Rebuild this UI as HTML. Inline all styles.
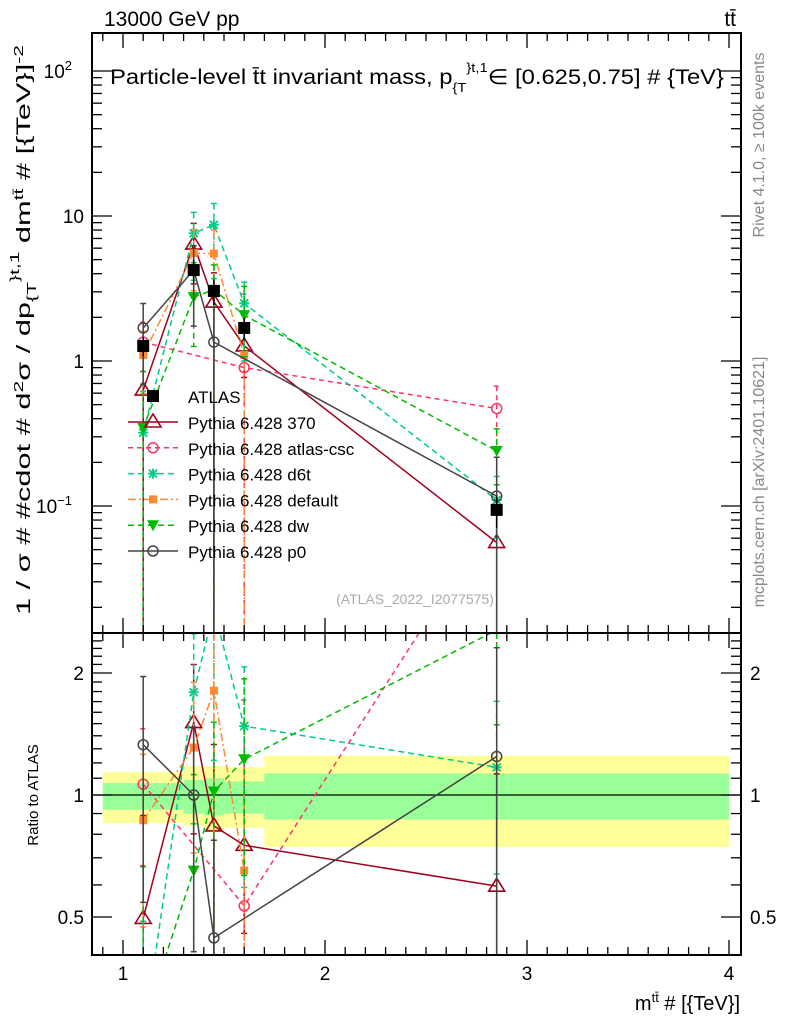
<!DOCTYPE html>
<html><head><meta charset="utf-8"><style>
html,body{margin:0;padding:0;width:786px;height:1024px;overflow:hidden;background:#fff}
svg{display:block;font-family:"Liberation Sans",Arial,sans-serif}
</style></head><body>
<svg id="c" width="786" height="1024" xmlns="http://www.w3.org/2000/svg">
<text x="104" y="26" font-size="21">13000 GeV pp</text>
<text x="736" y="26" font-size="21" text-anchor="end">tt̄</text>
<text x="110" y="84" font-size="21" textLength="614" lengthAdjust="spacingAndGlyphs">Particle-level t̄t invariant mass, p<tspan dy="8" font-size="13">{T</tspan><tspan dy="-20" font-size="13">}t,1</tspan><tspan dy="12">∈ [0.625,0.75] # {TeV}</tspan></text>
<text x="415" y="604" font-size="14" fill="#aaa" text-anchor="middle">(ATLAS_2022_I2077575)</text>
<text transform="translate(764,145) rotate(-90)" font-size="16" fill="#888" text-anchor="middle">Rivet 4.1.0, ≥ 100k events</text>
<text transform="translate(764,482) rotate(-90)" font-size="16" fill="#888" text-anchor="middle">mcplots.cern.ch [arXiv:2401.10621]</text>
<text transform="translate(30,615) rotate(-90)" font-size="19" textLength="570" lengthAdjust="spacingAndGlyphs">1 / σ # #cdot # d<tspan dy="-7" font-size="13">2</tspan><tspan dy="7">σ / dp</tspan><tspan dy="6" font-size="13">{T</tspan><tspan dy="-17" font-size="13">}t,1</tspan><tspan dy="11"> dm</tspan><tspan dy="-7" font-size="13">tt̄</tspan><tspan dy="7"> # [{TeV}]</tspan><tspan dy="-7" font-size="13">-2</tspan></text>
<text transform="translate(38,795) rotate(-90)" font-size="15" text-anchor="middle">Ratio to ATLAS</text>
<text x="740" y="1010" font-size="20" text-anchor="end">m<tspan dy="-8" font-size="13">tt̄</tspan><tspan dy="8"> # [{TeV}]</tspan></text>
</svg>
<script>
const xs=[1.1,1.35,1.45,1.6,2.85];
const atlas=[1.27,4.24,3.04,1.69,0.094];
const atlasRel=[0.15,0.18,0.2,0.17,0.25];
const binEdges=[0.9,1.3,1.4,1.5,1.7,4.0];
const bandYellowHi=[1.14,1.18,1.18,1.17,1.25];
const bandYellowLo=[0.853,0.84,0.81,0.83,0.744];
const bandGreenHi=[1.07,1.09,1.1,1.08,1.13];
const bandGreenLo=[0.92,0.9,0.89,0.9,0.87];
const s370=[0.63,6.4,2.55,1.27,0.056];
const s370Lo=[0.63,3,2.55,0.5,0.056];
const s370Hi=[0.5,2.5,1.5,0.8,0.05];
const sCsc=[1.35,null,null,0.9,0.47];
const sCscLo=[0.5,0,0,0.9,0.47];
const sCscHi=[0.5,0,0,2,0.2];
const sD6t=[0.32,7.6,8.7,2.5,0.11];
const sD6tLo=[0.32,4,5,1.5,0.05];
const sD6tHi=[0.3,3,3.5,1,0.05];
const sDef=[1.1,5.55,5.5,1.1,null];
const sDefLo=[0.5,2.5,5.5,1.1,0];
const sDefHi=[0.5,2.5,2.5,1,0];
const sDw=[0.345,2.76,3.1,2.07,0.24];
const sDwLo=[0.345,1.5,3.1,1,0.1];
const sDwHi=[0.5,2,1.5,1.2,0.1];
const sP0=[1.69,4.24,1.35,null,0.117];
const sP0Lo=[1,2.5,1.35,0,0.117];
const sP0Hi=[0.8,2,1,0,0.1];
const labels=["Pythia 6.428 370","Pythia 6.428 atlas-csc","Pythia 6.428 d6t","Pythia 6.428 default","Pythia 6.428 dw","Pythia 6.428 p0"];

const L=92,R=741,T=33,MB=633,RB=955;
const X=v=>123+(v-1)*202;
const Y=v=>361-145*Math.log10(v);
const RY=v=>795-122*Math.log2(v);
const svg=document.getElementById('c');
const NS="http://www.w3.org/2000/svg";
function el(t,a,p){const e=document.createElementNS(NS,t);for(const k in a)e.setAttribute(k,a[k]);(p||svg).appendChild(e);return e;}
const clipM=el('clipPath',{id:'cm'});el('rect',{x:L,y:T,width:R-L,height:MB-T},clipM);
const clipR=el('clipPath',{id:'cr'});el('rect',{x:L,y:MB,width:R-L,height:RB-MB},clipR);
const gM=el('g',{'clip-path':'url(#cm)'});


const gR=el('g',{'clip-path':'url(#cr)'});



for(let i=0;i<xs.length;i++){
  const b1=el('rect',{x:X(binEdges[i]),y:RY(bandYellowHi[i]),width:X(binEdges[i+1])-X(binEdges[i]),height:RY(bandYellowLo[i])-RY(bandYellowHi[i]),fill:'#ffff99'},gR);
  
  
  const b2=el('rect',{x:X(binEdges[i]),y:RY(bandGreenHi[i]),width:X(binEdges[i+1])-X(binEdges[i]),height:RY(bandGreenLo[i])-RY(bandGreenHi[i]),fill:'#99ff99'},gR);
  
  
}
el('line',{x1:L,x2:R,y1:RY(1),y2:RY(1),stroke:'#000','stroke-width':1.3},gR);

function marker(g,type,x,y,c,s){
  let m;
  if(type==='tri')m=el('polygon',{points:`${x},${y-8} ${x-8},${y+5} ${x+8},${y+5}`,fill:'none',stroke:c,'stroke-width':1.6},g);
  else if(type==='circ')m=el('circle',{cx:x,cy:y,r:5,fill:'none',stroke:c,'stroke-width':1.5},g);
  else if(type==='star'){m=el('path',{d:`M${x-5},${y}H${x+5}M${x},${y-5}V${y+5}M${x-4},${y-4}L${x+4},${y+4}M${x-4},${y+4}L${x+4},${y-4}`,stroke:c,'stroke-width':1.8},g);}
  else if(type==='sq')m=el('rect',{x:x-4,y:y-4,width:8,height:8,fill:c},g);
  else if(type==='tridn')m=el('polygon',{points:`${x-6},${y-5} ${x+6},${y-5} ${x},${y+6}`,fill:c},g);
  else if(type==='bsq')m=el('rect',{x:x-6,y:y-6,width:12,height:12,fill:'#000'},g);
  
  
}
const series=[
 {v:s370,lo:s370Lo,hi:s370Hi,c:'#a0001e',d:'',m:'tri',n:'370'},
 {v:sCsc,lo:sCscLo,hi:sCscHi,c:'#ff3366',d:'5,4',m:'circ',n:'atlas-csc'},
 {v:sD6t,lo:sD6tLo,hi:sD6tHi,c:'#00cc88',d:'6,4',m:'star',n:'d6t'},
 {v:sDef,lo:sDefLo,hi:sDefHi,c:'#ff8833',d:'8,3,2,3',m:'sq',n:'default'},
 {v:sDw,lo:sDwLo,hi:sDwHi,c:'#00bb00',d:'6,4',m:'tridn',n:'dw'},
 {v:sP0,lo:sP0Lo,hi:sP0Hi,c:'#444444',d:'',m:'circ',n:'p0'}
];
function drawSeries(g,fy,ratio,top,bot){
  series.forEach(s=>{
    const pts=[];
    s.v.forEach((v,i)=>{
      if(v==null)return;
      const a=ratio?atlas[i]:1;
      const x=X(xs[i]);
      const yv=fy(v/a);
      const lo=v-s.lo[i];
      const ylo=Math.min(lo>0?fy(lo/a):bot,bot);
      const yhi=Math.max(fy((v+s.hi[i])/a),top);
      const e=el('path',{d:`M${x},${yhi}V${ylo}M${x-3},${yhi}H${x+3}M${x-3},${ylo}H${x+3}`,stroke:s.c,'stroke-width':1.5,'stroke-dasharray':s.d,fill:'none'},g);
      
      
      pts.push([x,yv]);
    });
    const ln=el('polyline',{points:pts.map(p=>p.join(',')).join(' '),fill:'none',stroke:s.c,'stroke-width':1.5,'stroke-dasharray':s.d},g);
    
    
    pts.forEach(p=>marker(g,s.m,p[0],p[1],s.c,s.n));
  });
}
drawSeries(gM,Y,false,T,MB);
drawSeries(gR,RY,true,MB,RB);
atlas.forEach((v,i)=>{
  const x=X(xs[i]);
  const e=el('path',{d:`M${x},${Y(v*(1+atlasRel[i]))}V${Y(v*(1-atlasRel[i]))}`,stroke:'#000','stroke-width':1.5},gM);
  
  
  marker(gM,'bsq',x,Y(v),'#000','atlas');
});

el('rect',{x:L,y:T,width:R-L,height:MB-T,fill:'none',stroke:'#000','stroke-width':2});
el('rect',{x:L,y:MB,width:R-L,height:RB-MB,fill:'none',stroke:'#000','stroke-width':2});
for(let k=9;k<=40;k++){
  const v=k/10,x=X(v),maj=k%10===0,len=maj?15:8;
  [[T,1],[MB,1],[RB,-1],[MB,-1]].forEach(([y,d])=>el('line',{x1:x,x2:x,y1:y,y2:y+d*len,stroke:'#000','stroke-width':1.3}));
  if(maj){const t=el('text',{x:x,y:980,'font-size':19,'text-anchor':'middle'});t.textContent=k/10;
    }
}
for(let e=-2;e<=2;e++){for(let m=1;m<10;m++){
  const v=m*Math.pow(10,e),y=Y(v);if(y<T||y>MB)continue;
  const len=m===1?20:10;
  el('line',{x1:L,x2:L+len,y1:y,y2:y,stroke:'#000','stroke-width':1.3});
  el('line',{x1:R,x2:R-len,y1:y,y2:y,stroke:'#000','stroke-width':1.3});
}}
[[-1,'10','−1'],[0,'1',''],[1,'10',''],[2,'10','2']].forEach(([e,b,s])=>{
  const t=el('text',{x:s?72:84,y:Y(Math.pow(10,e))+7,'font-size':19,'text-anchor':'end'});
  t.textContent=b;
  if(s){const ts=el('tspan',{dy:-8,'font-size':13},t);ts.textContent=s;}
  
});
for(let k=4;k<=24;k++){const v=k/10,y=RY(v);if(y<MB||y>RB)continue;
  const len=(k===5||k===10||k===20)?20:10;
  el('line',{x1:L,x2:L+len,y1:y,y2:y,stroke:'#000','stroke-width':1.3});
  el('line',{x1:R,x2:R-len,y1:y,y2:y,stroke:'#000','stroke-width':1.3});}
['0.5','1','2'].forEach(s=>{const y=RY(+s)+7;
  let t=el('text',{x:84,y:y,'font-size':19,'text-anchor':'end'});t.textContent=s;
  
  t=el('text',{x:750,y:y,'font-size':19});t.textContent=s;
  });

const lg=el('g',{});


marker(lg,'bsq',153,396,'#000','atlas-legend');
let lt=el('text',{x:188,y:403,'font-size':17},lg);lt.textContent='ATLAS';
series.forEach((s,i)=>{
  const y=422+i*25.8;
  const g=el('g',{},lg);
  
  
  el('line',{x1:128,x2:178,y1:y,y2:y,stroke:s.c,'stroke-width':1.5,'stroke-dasharray':s.d},g);
  marker(g,s.m,153,y,s.c,s.n+'-legend');
  const t=el('text',{x:188,y:y+7,'font-size':17},g);t.textContent=labels[i];
});
</script>
</body></html>
